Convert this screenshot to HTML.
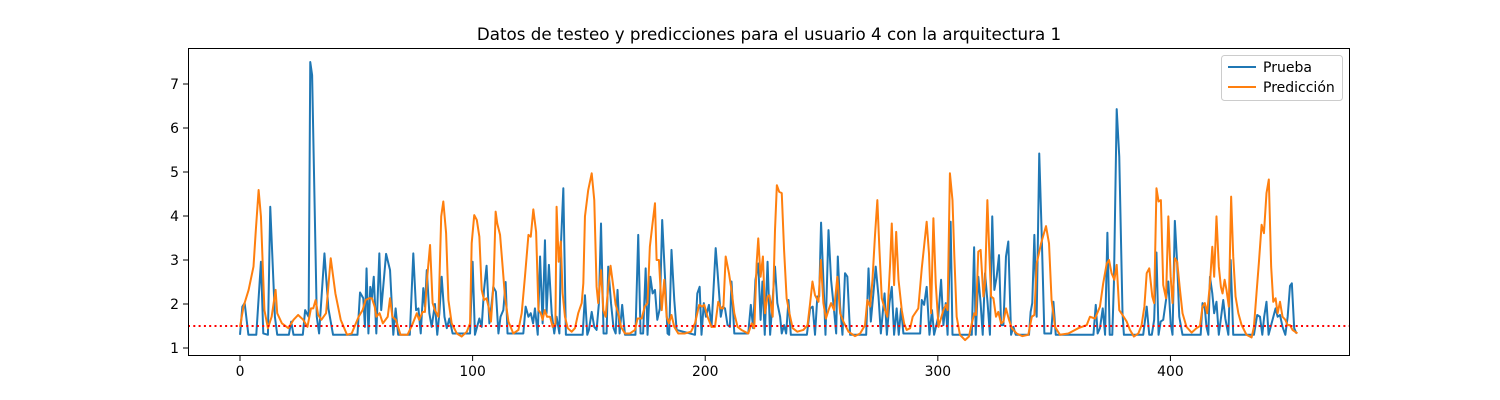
<!DOCTYPE html>
<html><head><meta charset="utf-8"><style>
html,body{margin:0;padding:0;background:#fff;}
svg{display:block;font-family:"DejaVu Sans","Liberation Sans",sans-serif;}
</style></head><body>
<svg id="chart" width="1500" height="400" xmlns="http://www.w3.org/2000/svg">
<rect x="0" y="0" width="1500" height="400" fill="#fff"/>
<text x="769" y="40" text-anchor="middle" font-size="16.7" fill="#000">Datos de testeo y predicciones para el usuario 4 con la arquitectura 1</text>
<g id="marks"></g>
<g id="axes"></g>
<g>
<rect x="1221.5" y="55.5" width="121" height="45" rx="3" fill="#fff" fill-opacity="0.8" stroke="#ccc"/>
<line x1="1228" y1="67" x2="1256" y2="67" stroke="#1f77b4" stroke-width="2"/>
<text x="1263" y="72" font-size="14">Prueba</text>
<line x1="1228" y1="87" x2="1256" y2="87" stroke="#ff7f0e" stroke-width="2"/>
<text x="1263" y="92" font-size="14">Predicción</text>
</g>
</svg>
<script>
const xTicks=[0,100,200,300,400];
const yTicks=[1,2,3,4,5,6,7];
const threshold=1.5;
const pruebaX=[0,1,2,3.6,7,9,10,12,13,15,16,21,22,23,27,28,29.5,30.2,31,33,34,36.3,38,40,50.5,51.6,53,53.7,54.4,55.2,56,56.7,57.5,58.6,59.9,60.7,62.8,64.5,65.9,66.9,68,73,74.5,75.7,76.7,77.7,78.8,79.5,80.3,81.4,82.4,83.8,84.8,85.7,86.7,87.9,88.9,90,91.4,98.9,100,101,102.9,103.9,104.9,106,107.2,108.2,108.9,110,111.1,112,113.2,114.2,115,121.8,122.8,124,125,126,126.8,128,129,130.1,131.1,131.8,132.8,134,135.1,136.1,137.3,138,139,140.1,147.3,148.3,149.3,150,151.2,152.3,153.3,154.3,155.2,156.3,157.6,158.3,159.5,160.6,161.5,162.3,163.2,164.3,165.5,170,171.2,172.2,173.3,174.4,175.2,176.4,177.4,178.4,179.4,180.5,181.5,182.7,183.8,184.5,185.5,186.7,187.7,195.6,196.6,197.6,198.4,199.4,200.3,201.6,202.7,204.5,205.3,206.7,207.5,208.5,209.6,210.6,211.3,212.5,218.5,219.6,220.6,221.6,222.8,223.8,224.6,225.6,226.8,227.9,230,231,232.2,232.9,233.9,234.8,235.8,236.8,243.7,245.1,246.2,247.2,248.2,249,249.8,250.8,251.7,253,254.1,255.1,256.3,257,258,259,260.1,261.1,262.3,269.2,270.2,271.2,272.3,273.3,274.5,275.5,277.1,278.1,279.2,280.2,281.2,282.3,283.2,284.2,285.2,292.4,293.1,294.1,295.2,296.4,297.5,298.4,300.2,301.4,302.4,303.4,304.2,305.5,306.3,314.6,315.6,316.3,317.4,318.4,319.3,320.3,321.4,322.4,323.4,324.3,325.3,326.3,327.2,328.2,329.3,330.3,331.5,332.5,333.5,339.2,339.9,340.6,341.5,342.5,343.6,344.6,345.8,348.7,349.7,350.7,366.9,367.9,368.7,369.7,370.9,371.9,372.9,373.9,375,375.7,376.9,378,379.4,380,388.3,389.8,390.9,392,393,394,394.9,395.8,396.9,398.1,399.1,400.1,400.9,401.9,402.9,403.8,405.2,413,413.8,414.8,415.5,416.3,417,418,418.8,419.8,420.8,421.7,422.7,423.6,424.9,425.9,427,435.9,437.3,438.5,439.5,440.3,441.3,442.2,445.2,446.1,447.1,448.2,449.4,450.4,451.4,452.2,453.2,454.2];
const pruebaY=[1.3,1.94,2.02,1.3,1.3,2.96,1.33,1.3,4.21,1.71,1.3,1.3,1.6,1.3,1.3,1.86,1.71,7.5,7.2,1.71,1.33,3.15,1.9,1.3,1.3,2.26,2.13,1.48,2.81,1.33,2.39,2.13,2.62,1.33,3.15,1.86,3.14,2.77,1.3,1.9,1.3,1.3,3.15,1.86,1.9,1.33,2.36,1.94,2.77,1.79,1.48,2.0,1.3,1.79,2.62,1.71,1.45,1.67,1.33,1.33,2.96,1.3,1.67,1.48,2.32,2.87,1.56,2.02,2.39,2.28,1.33,1.71,1.86,2.5,1.33,1.33,1.94,1.71,1.79,1.56,1.9,1.3,3.08,1.56,3.45,1.79,2.89,1.79,1.33,1.71,1.33,3.38,4.63,1.3,1.3,2.2,1.3,1.41,1.82,1.48,1.41,2.02,3.83,1.33,1.33,2.85,2.02,1.45,1.33,2.32,1.33,1.98,1.3,1.3,3.57,1.33,1.33,2.81,1.3,2.62,2.24,2.32,1.64,1.9,3.91,2.62,1.33,1.3,3.23,2.09,1.41,1.3,2.24,2.39,1.3,2.02,1.71,1.98,1.48,3.27,2.73,1.71,1.94,1.9,1.52,1.48,2.51,1.33,1.33,1.98,1.45,2.55,2.92,1.64,2.51,1.3,2.96,1.3,2.85,2.02,1.71,1.33,1.52,1.33,2.09,1.3,1.3,1.9,1.94,1.3,2.17,2.17,3.85,2.55,1.3,3.68,2.55,2.02,1.33,3.08,1.94,1.3,2.7,2.62,1.3,1.3,2.81,1.6,2.24,2.85,2.17,1.33,2.24,1.3,2.02,2.39,1.3,1.9,1.3,1.9,1.33,1.33,2.09,1.98,2.39,1.3,1.86,1.3,1.71,2.55,1.52,2.02,1.3,3.87,1.3,1.3,3.29,1.3,2.62,2.02,1.3,2.7,2.02,1.3,3.99,2.32,2.62,3.11,1.52,1.52,3.08,3.42,1.3,1.48,1.3,1.3,1.82,2.02,3.57,1.71,5.42,3.68,1.33,1.33,2.05,1.3,1.3,1.98,1.33,1.45,1.9,1.3,3.62,1.3,1.3,2.47,6.43,5.35,1.79,1.3,1.3,1.94,1.3,1.3,1.64,3.17,1.3,1.6,1.64,2.09,2.51,1.56,1.3,3.89,2.92,1.71,1.3,1.3,2.02,1.9,1.48,1.3,2.62,2.24,1.79,2.05,1.3,1.67,2.09,1.67,1.3,3.0,1.3,1.3,1.75,1.71,1.3,1.71,2.05,1.3,1.9,1.71,1.75,1.48,1.3,1.71,2.41,2.47,1.45,1.33];
const prediccionX=[0,1.5,3.7,5.8,6.8,8,9,10.5,12,13.6,15.3,16,18,20.8,23,25,27.2,29,30.5,31.5,32.5,33.6,35,37,39,41,43.3,46,48,51,52.7,54,55.5,56.7,57.9,58.6,60,61.4,63.5,64.5,65.5,67,69,72,74,76,77,78.5,79.5,80.5,81.7,82.8,83.8,85.3,86.5,87.4,88.6,89.6,91,93.2,95.3,97.5,98.9,99.6,100.7,101.8,102.9,103.9,104.9,106,107,107.9,109,109.9,110.6,111.8,112.9,113.9,115.4,117.5,119.7,121.1,122.5,124,125,126.1,127.3,128.3,129.3,130.1,131,132,133.3,134.4,135.6,136.1,137,137.9,138.7,139.7,140.9,142.6,144,145.4,146.9,147.6,148.3,149.7,151.2,152.3,153.3,154,155.2,156.2,157.2,158.3,159.3,160.5,161.5,162.6,163.8,165.5,167.6,169.8,170.9,172.7,174,175.2,176.2,177.2,178.4,179.1,180.1,181.3,182.4,183.4,184.4,185.5,186.7,188.4,191.3,193.9,195.6,197.4,198.7,199.6,201,202.7,204.2,205.6,206.7,207.8,208.8,210.2,211.3,212.5,213.9,215.6,218.5,220,221.1,222.1,222.8,223.8,224.8,225.7,226.8,227.6,229,230,230.8,231.8,232.9,233.9,235,236.2,237.6,239.6,242.2,244,245.1,246.1,247.2,248.7,249.7,250.8,251.9,253,254.1,255.4,256.8,258,259.4,261.6,264.4,266.6,268.7,269.7,270.9,271.9,273,274,274.9,275.9,277.3,278.3,279.5,280.2,281.2,282.1,283.1,284.5,285.5,286.6,288.1,289.2,291.6,293.1,295.2,296.2,297.1,298.1,299.1,300.3,302.4,303.5,304.2,305.2,306.3,307.1,308.1,309.5,311.7,313.4,314.6,315.7,316.4,317.4,318.4,319.6,320.3,321.3,322.2,322.9,323.9,325,326,327.2,328.2,329.3,330.6,331.8,333.9,336.3,338.9,340.4,341.5,342.5,344.4,346.5,347.8,348.9,350.4,352.5,356.1,360.4,364,365.4,367.6,369.7,371.1,372.6,373.6,374.7,375.9,376.9,378,379.4,381.2,382.6,384.3,386.2,387.6,388.8,389.8,390.9,392.2,393,394,394.9,395.9,396.9,398.1,399.1,400.1,400.9,401.9,402.9,404.1,405.2,406.9,409.1,411.2,412.7,413.8,414.8,415.8,417,418,418.8,419.8,420.8,421.7,422.4,423.3,424.1,425.1,426.1,427,428,429.2,430.6,432.7,434.9,435.9,437,438,439.2,440.2,441.3,442.3,443.3,444.2,445.2,446.1,447.1,448.2,449.4,450.4,451.4,452.5,454.6];
const prediccionY=[1.48,1.94,2.32,2.85,3.68,4.59,3.99,1.86,1.45,1.71,2.32,1.79,1.56,1.45,1.64,1.75,1.64,1.48,1.9,1.9,2.09,1.75,1.64,1.79,3.04,2.24,1.64,1.3,1.33,1.71,1.86,2.09,2.13,2.13,1.94,1.71,1.79,1.56,1.71,2.13,1.71,1.64,1.3,1.3,1.52,1.79,1.64,1.82,1.82,2.62,3.34,2.02,1.86,1.71,3.99,4.33,3.61,2.09,1.56,1.33,1.26,1.37,1.56,3.38,4.02,3.91,3.53,2.32,2.09,2.13,1.9,1.6,2.47,4.1,3.83,3.57,2.85,2.17,1.6,1.33,1.41,1.79,2.62,3.57,3.53,4.15,3.64,1.86,1.79,1.64,1.86,1.71,1.71,1.48,1.56,4.21,2.96,3.42,2.24,1.71,1.45,1.37,1.45,1.79,2.02,2.47,3.99,4.59,4.97,4.36,2.39,2.02,2.77,1.86,1.71,2.39,2.87,2.39,1.98,1.79,1.48,1.33,1.33,1.41,1.67,1.67,1.94,2.02,3.3,3.76,4.29,3.0,3.0,1.86,2.55,1.71,1.56,1.75,1.48,1.33,1.33,1.37,1.56,1.98,1.94,1.98,1.71,1.48,1.48,2.05,1.9,1.9,3.08,2.7,2.32,1.79,1.48,1.41,1.33,1.56,1.45,2.92,3.49,2.62,3.08,1.79,2.17,2.2,1.71,3.68,4.7,4.55,4.52,3.23,2.13,1.79,1.45,1.37,1.41,1.52,2.02,2.51,2.2,2.05,3.0,2.02,1.67,1.86,2.02,1.86,2.62,1.79,1.6,1.37,1.27,1.33,1.52,2.09,1.94,2.55,3.57,4.36,3.23,2.13,1.86,1.71,2.92,3.83,2.43,3.64,2.55,1.86,1.56,1.41,1.45,1.71,1.9,2.81,3.87,3.15,1.79,3.95,2.47,1.48,1.86,1.98,1.86,4.97,4.36,3.08,1.71,1.3,1.18,1.26,1.56,1.79,1.75,3.19,3.23,2.17,2.47,4.36,3.08,2.17,2.13,1.71,1.82,1.56,1.6,1.9,1.64,1.45,1.33,1.27,1.3,1.71,1.75,2.92,3.38,3.77,3.38,2.09,1.48,1.3,1.33,1.45,1.52,1.71,1.67,1.94,2.47,2.92,3.0,2.7,2.55,2.89,1.86,1.75,1.6,1.41,1.26,1.33,1.52,1.94,2.7,2.81,2.17,2.02,4.63,4.33,4.36,2.43,2.13,3.99,2.62,2.02,3.04,2.96,2.32,1.79,1.48,1.35,1.45,1.5,1.94,2.02,1.79,2.47,3.3,2.62,3.99,2.85,2.39,2.24,2.55,2.32,1.94,4.44,3.08,2.17,1.79,1.52,1.3,1.24,1.48,2.24,2.92,3.8,3.61,4.52,4.83,2.85,2.05,2.13,1.79,2.05,1.71,1.64,1.52,1.52,1.41,1.33];

const L=188,R=1350,T=48,B=356;
const xMin=-22.36,xMax=477.2,yMin=0.818,yMax=7.818;
function sx(v){return L+(v-xMin)/(xMax-xMin)*(R-L);}
function sy(v){return B-(v-yMin)/(yMax-yMin)*(B-T);}
const NS='http://www.w3.org/2000/svg';
const marks=document.getElementById('marks');
const axes=document.getElementById('axes');
function mk(tag,attrs,parent){const e=document.createElementNS(NS,tag);for(const k in attrs)e.setAttribute(k,attrs[k]);parent.appendChild(e);return e;}

function drawLine(xs,ys,color,name){
  let d='';
  for(let i=0;i<xs.length;i++){d+=(i?'L':'M')+sx(xs[i]).toFixed(2)+','+sy(ys[i]).toFixed(2);}
  const p=mk('path',{d:d,fill:'none',stroke:color,'stroke-width':2,'stroke-linejoin':'round'},marks);
  
  
}
drawLine(pruebaX,pruebaY,'#1f77b4','series-prueba');
drawLine(prediccionX,prediccionY,'#ff7f0e','series-prediccion');
const th=mk('line',{x1:L,x2:R,y1:sy(threshold),y2:sy(threshold),stroke:'#ff0000','stroke-width':2,'stroke-dasharray':'2,3.3'},marks);



const frame=mk('rect',{x:L+0.5,y:T+0.5,width:R-L-1,height:B-T-1,fill:'none',stroke:'#000','stroke-width':1},axes);


xTicks.forEach(function(v){
  const x=sx(v);
  const t=mk('line',{x1:x,x2:x,y1:B,y2:B+5,stroke:'#000','stroke-width':1},axes);
  
  
  const lb=mk('text',{x:x,y:B+20,'text-anchor':'middle','font-size':13.9},axes);
  lb.textContent=String(v);
  
  
});
yTicks.forEach(function(v){
  const y=sy(v);
  const t=mk('line',{x1:L-5,x2:L,y1:y,y2:y,stroke:'#000','stroke-width':1},axes);
  
  
  const lb=mk('text',{x:L-9,y:y+5,'text-anchor':'end','font-size':13.9},axes);
  lb.textContent=String(v);
  
  
});
</script>
</body></html>
